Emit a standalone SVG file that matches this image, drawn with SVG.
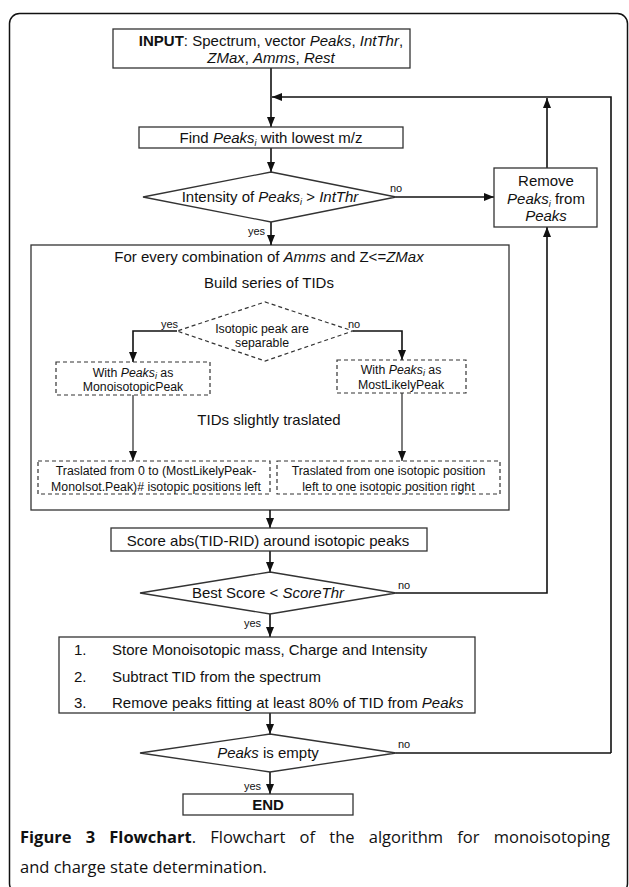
<svg xmlns="http://www.w3.org/2000/svg" width="629" height="887" viewBox="0 0 629 887">
<defs>
<marker id="ah" markerUnits="userSpaceOnUse" markerWidth="10" markerHeight="8" refX="10" refY="4" orient="auto">
<path d="M0,0 L10,4 L0,8 z" fill="#111"/>
</marker>
<style>
.box{fill:#fff;stroke:#333;stroke-width:1.3}
.dbox{fill:#fff;stroke:#333;stroke-width:1.2;stroke-dasharray:4,3}
.t{font-family:"Liberation Sans",Arial,sans-serif;font-size:15px;fill:#111;text-anchor:middle}
.tl{font-family:"Liberation Sans",Arial,sans-serif;font-size:15px;fill:#111;text-anchor:start}
.s{font-family:"Liberation Sans",Arial,sans-serif;font-size:12.3px;fill:#111;text-anchor:middle}
.l{font-family:"Liberation Sans",Arial,sans-serif;font-size:11px;fill:#111}
.le{font-family:"Liberation Sans",Arial,sans-serif;font-size:11px;fill:#111;text-anchor:end}
.c{stroke:#111;stroke-width:1.6;fill:none}
.cthin{stroke:#111;stroke-width:1.1;fill:none}
.i{font-style:italic}
.b{font-weight:bold}
.sub{font-size:9px;font-style:italic}
.cap{font-family:"Open Sans","Noto Sans",sans-serif;font-size:16.5px;fill:#111}
</style>
</defs>
<rect x="9.5" y="13.5" width="618" height="880" rx="10" fill="#fff" stroke="#111" stroke-width="1.5"/>

<g id="loop">
<rect class="box" x="31" y="245" width="478" height="265"/>
<text class="t" x="269" y="262">For every combination of <tspan class="i">Amms</tspan> and Z&lt;=<tspan class="i">ZMax</tspan></text>
<text class="t" x="269" y="288">Build series of TIDs</text>
<text class="t" x="269" y="425">TIDs slightly traslated</text>
</g>

<g id="connectors">
<line class="c" x1="271" y1="68" x2="271" y2="127" marker-end="url(#ah)"/>
<polyline class="c" points="611,753 611,97 272,97" marker-end="url(#ah)"/>
<line class="c" x1="271" y1="148" x2="271" y2="172" marker-end="url(#ah)"/>
<line class="c" x1="396" y1="197" x2="494" y2="197" marker-end="url(#ah)"/>
<line class="c" x1="547" y1="168" x2="547" y2="98" marker-end="url(#ah)"/>
<line class="c" x1="271" y1="222" x2="271" y2="245" marker-end="url(#ah)"/>
<polyline class="c" points="177,331 133,331 133,362" marker-end="url(#ah)"/>
<polyline class="c" points="353,331 402,331 402,360" marker-end="url(#ah)"/>
<line class="cthin" x1="133" y1="395" x2="133" y2="461" marker-end="url(#ah)"/>
<line class="cthin" x1="402" y1="393" x2="402" y2="461" marker-end="url(#ah)"/>
<line class="c" x1="270" y1="510" x2="270" y2="528" marker-end="url(#ah)"/>
<line class="c" x1="270" y1="551" x2="270" y2="572" marker-end="url(#ah)"/>
<polyline class="c" points="396,593 547,593 547,227" marker-end="url(#ah)"/>
<line class="c" x1="270" y1="614" x2="270" y2="637" marker-end="url(#ah)"/>
<line class="c" x1="270" y1="713" x2="270" y2="734" marker-end="url(#ah)"/>
<line class="c" x1="396" y1="753" x2="611" y2="753"/>
<line class="c" x1="270" y1="772" x2="270" y2="794" marker-end="url(#ah)"/>
<text class="l" x="390" y="192">no</text>
<text class="le" x="265" y="235">yes</text>
<text class="l" x="161" y="328">yes</text>
<text class="l" x="348" y="328">no</text>
<text class="l" x="398" y="589">no</text>
<text class="le" x="261" y="627">yes</text>
<text class="l" x="398" y="748">no</text>
<text class="le" x="261" y="790">yes</text>
</g>

<g id="input">
<rect class="box" x="113" y="29" width="297" height="39"/>
<text class="t" x="271" y="46">
<tspan class="b">INPUT</tspan>: Spectrum, vector <tspan class="i">Peaks</tspan>, <tspan class="i">IntThr</tspan>,</text>
<text class="t" x="271" y="63"><tspan class="i">ZMax</tspan>, <tspan class="i">Amms</tspan>, <tspan class="i">Rest</tspan></text>
</g>

<g id="find">
<rect class="box" x="139" y="127" width="264" height="21"/>
<text class="t" x="271" y="143">Find <tspan class="i">Peaks</tspan><tspan class="sub" dy="3">i</tspan><tspan dy="-3"> with lowest m/z</tspan></text>
</g>

<g id="intensity">
<polygon class="box" points="271,172 396,197 271,222 143,197"/>
<text class="t" x="270" y="202">Intensity of <tspan class="i">Peaks</tspan><tspan class="sub" dy="3">i</tspan><tspan dy="-3"> &gt; </tspan><tspan class="i">IntThr</tspan></text>
</g>

<g id="remove">
<rect class="box" x="494" y="168" width="103" height="59"/>
<text class="t" x="546" y="185.5">Remove</text>
<text class="t" x="546" y="203.5"><tspan class="i">Peaks</tspan><tspan class="sub" dy="3">i</tspan><tspan dy="-3"> from</tspan></text>
<text class="t i" x="546" y="221">Peaks</text>
</g>

<g id="separable">
<polygon class="dbox" points="265,302 353,331 265,361 177,331"/>
<text class="s" x="262" y="333">Isotopic peak are</text>
<text class="s" x="262" y="347">separable</text>
</g>

<g id="mono">
<rect class="dbox" x="56" y="362" width="154" height="33"/>
<text class="s" x="133" y="376.5">With <tspan class="i">Peaks</tspan><tspan class="sub" dy="2">i</tspan><tspan dy="-2"> as</tspan></text>
<text class="s" x="133" y="391">MonoisotopicPeak</text>
</g>

<g id="likely">
<rect class="dbox" x="337" y="360" width="129" height="33"/>
<text class="s" x="401" y="373.5">With <tspan class="i">Peaks</tspan><tspan class="sub" dy="2">i</tspan><tspan dy="-2"> as</tspan></text>
<text class="s" x="401" y="389">MostLikelyPeak</text>
</g>

<g id="trans-left">
<rect class="dbox" x="38" y="461" width="232" height="33"/>
<text class="s" x="156" y="475">Traslated from 0 to (MostLikelyPeak-</text>
<text class="s" x="156" y="490.5">MonoIsot.Peak)# isotopic positions left</text>
</g>

<g id="trans-right">
<rect class="dbox" x="277" y="461" width="223" height="33"/>
<text class="s" x="388.5" y="475">Traslated from one isotopic position</text>
<text class="s" x="388.5" y="490.5">left to one isotopic position right</text>
</g>

<g id="score">
<rect class="box" x="111" y="528" width="316" height="23"/>
<text class="t" x="268" y="546">Score abs(TID-RID) around isotopic peaks</text>
</g>

<g id="best">
<polygon class="box" points="270,572 396,593 270,614 140,593"/>
<text class="t" x="268" y="598">Best Score &lt; <tspan class="i">ScoreThr</tspan></text>
</g>

<g id="store">
<rect class="box" x="59" y="637" width="416" height="76"/>
<text class="tl" x="74" y="655">1.</text>
<text class="tl" x="112" y="655">Store Monoisotopic mass, Charge and Intensity</text>
<text class="tl" x="74" y="681.5">2.</text>
<text class="tl" x="112" y="681.5">Subtract TID from the spectrum</text>
<text class="tl" x="74" y="708">3.</text>
<text class="tl" x="112" y="708">Remove peaks fitting at least 80% of TID from <tspan class="i">Peaks</tspan></text>
</g>

<g id="empty">
<polygon class="box" points="270,734 396,753 270,772 140,753"/>
<text class="t" x="268" y="758"><tspan class="i">Peaks</tspan> is empty</text>
</g>

<g id="end">
<rect class="box" x="183" y="794" width="170" height="21"/>
<text class="t b" x="268" y="810">END</text>
</g>

<g id="caption">
<text class="cap" x="20" y="843" word-spacing="9.9"><tspan font-weight="bold">Figure 3 Flowchart</tspan>. Flowchart of the algorithm for monoisotoping</text>
<text class="cap" x="20" y="873">and charge state determination.</text>
</g>
</svg>
